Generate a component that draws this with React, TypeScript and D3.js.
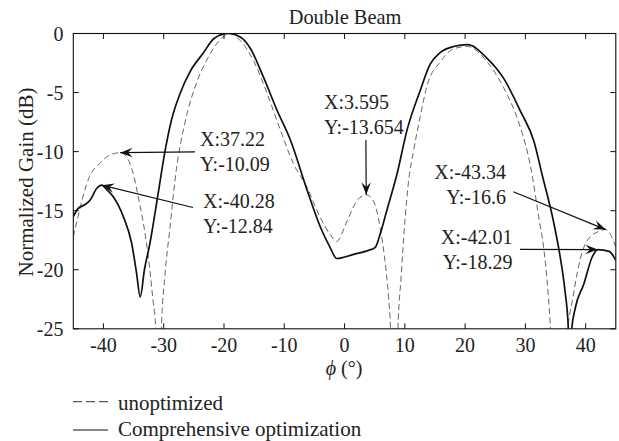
import React from 'react';
import * as d3 from 'd3';

// Beam pattern samples: azimuth angle (deg) and normalized gain (dB)
const phiUnoptimized = [
  -45, -44.2, -43.4, -42.3, -40.6, -39.0, -37.22, -36.2, -35.1, -34.0, -33.2, -32.3, -31.8,
  -31.3, -30.85, -30.4, -29.8, -29.0, -27.9, -26.5, -24.5, -22.9, -20.7, -19.0, -17.3, -15.1,
  -12.9, -10.7, -8.5, -6.25, -4.0, -2.4, -1.3, 0.4, 2.0, 3.595, 4.8, 5.9, 6.76, 7.3, 7.65,
  8.25, 8.85, 9.4, 10.0, 10.6, 11.5, 12.57, 13.7, 15.9, 18.1, 20.4, 23.65, 26.4, 29.2, 30.8,
  32.3, 33.0, 33.7, 34.2, 35.6, 37.0, 37.8, 38.6, 39.2, 40.3, 42.2, 43.34, 44.3, 45,
];
const gainUnoptimized = [
  -17.2, -15.5, -13.8, -12.1, -11.0, -10.3, -10.09, -10.4, -11.8, -14.4, -16.6, -20.0, -22.5,
  -25.2, -40, -25.2, -20.5, -16.6, -11.5, -7.6, -4.1, -2.3, -0.55, 0, -0.6, -2.3,
  -5.0, -8.1, -11.0, -13.0, -15.6, -17.0, -17.6, -15.9, -14.2, -13.654, -14.2, -16.4, -19.5, -22.3, -25.2,
  -40, -25.2, -20.5, -16.0, -12.6, -9.8, -7.0, -4.4, -2.4, -1.3, -1.1, -2.4, -4.6, -8.0, -11.1,
  -15.8, -18.0, -21.5, -25.2, -40, -25.2, -22.6, -20.3, -18.9, -17.5, -16.75, -16.6, -17.2, -18.1,
];

const phiComprehensive = [
  -45, -44.2, -43.1, -42.2, -41.1, -40.28, -39.5, -38.4, -36.7, -35.3, -34.5, -33.9, -33.2,
  -32.3, -31.0, -29.8, -28.7, -27.3, -25.6, -23.5, -21.6, -19.3, -17.3, -15.7, -13.45, -11.2,
  -9.0, -6.25, -4.0, -2.4, -1.3, 1.5, 3.7, 5.1, 5.9, 7.0, 8.7, 10.35, 12.57, 14.2, 15.9, 18.1,
  20.4, 23.65, 26.4, 29.2, 31.4, 32.8, 34.7, 35.8, 36.5, 37.15, 37.4, 37.65, 38.3, 39.7,
  41.1, 42.01, 43.9, 45,
];
const gainComprehensive = [
  -15.5, -14.8, -14.5, -14.1, -13.1, -12.84, -13.2, -13.8, -15.5, -17.8, -20.3, -22.3, -20.0,
  -17.8, -13.8, -10.0, -7.3, -5.1, -3.2, -1.7, -0.4, 0, -0.3, -1.2, -3.7, -6.5,
  -9.0, -13.2, -16.4, -18.1, -19.05, -18.7, -18.4, -18.1, -17.0, -15.0, -11.9, -8.2, -4.8, -2.6, -1.6, -1.1,
  -0.95, -2.1, -3.8, -6.6, -9.1, -12.0, -16.0, -19.0, -21.5, -25.2, -40, -25.2, -23.2, -21.2,
  -18.9, -18.29, -18.45, -19.2,
];

const xTicks = [-40, -30, -20, -10, 0, 10, 20, 30, 40];
const yTicks = [0, -5, -10, -15, -20, -25];

// Data-tip readouts
const tipPhi = [-37.22, -40.28, 3.595, 43.34, 42.01];
const tipGain = [-10.09, -12.84, -13.654, -16.6, -18.29];
const tipXText = ['37.22', '-40.28', '3.595', '-43.34', '-42.01'];

const seriesNames = ['unoptimized', 'Comprehensive optimization'];

// Placement of each readout box and its arrow tail
const tipLayout = [
  { tail: [195, 151.8], tx: 200, ty: 146, anchor: 'start' },
  { tail: [193, 207.5], tx: 203, ty: 208, anchor: 'start' },
  { tail: [365.9, 140], tx: 324, ty: 108.5, anchor: 'start' },
  { tail: [513.3, 191.7], tx: 506, ty: 178.5, anchor: 'end' },
  { tail: [520, 249.3], tx: 512.5, ty: 243.5, anchor: 'end' },
];

const W = 619;
const H = 441;
const plot = { left: 73.3, right: 615.8, top: 33.5, bottom: 328.8 };
const FONT = '"Liberation Serif", "Times New Roman", Times, serif';

function arrowHead(tx: number, ty: number, fx: number, fy: number, L = 12.5, Wd = 9.5) {
  const ang = Math.atan2(ty - fy, tx - fx);
  const c = Math.cos(ang);
  const s = Math.sin(ang);
  const pt = (a: number, b: number) => `${tx + a * c - b * s},${ty + a * s + b * c}`;
  return `M${tx},${ty}L${pt(-L, Wd / 2)}L${pt(-0.62 * L, 0)}L${pt(-L, -Wd / 2)}Z`;
}

export default function App() {
  const x = d3.scaleLinear().domain([-45, 45]).range([plot.left, plot.right]);
  const y = d3.scaleLinear().domain([-25, 0]).range([plot.bottom, plot.top]);
  const line = d3
    .line<[number, number]>()
    .x((d) => x(d[0]))
    .y((d) => y(d[1]))
    .curve(d3.curveMonotoneX);

  const unopt = phiUnoptimized.map((p, i) => [p, gainUnoptimized[i]] as [number, number]);
  const comp = phiComprehensive.map((p, i) => [p, gainComprehensive[i]] as [number, number]);
  const tickLen = 5.5;

  return (
    <svg
      width={W}
      height={H}
      style={{ position: 'absolute', left: 0, top: 0, background: '#fff' }}
      fontFamily={FONT}
    >
      <defs>
        <clipPath id="plotClip">
          <rect x={plot.left} y={plot.top} width={plot.right - plot.left} height={plot.bottom - plot.top} />
        </clipPath>
      </defs>
      <rect x={0} y={0} width={W} height={H} fill="#fff" />

      <text x={345} y={23.5} fontSize={20.4} textAnchor="middle" fill="#222">
        Double Beam
      </text>

      {/* curves */}
      <g clipPath="url(#plotClip)" fill="none">
        <path d={line(unopt) || ''} stroke="#555" strokeWidth={0.9} strokeDasharray="6,3.5" />
        <path d={line(comp) || ''} stroke="#111" strokeWidth={1.7} strokeLinejoin="round" />
      </g>

      {/* axes box and ticks */}
      <rect
        x={plot.left}
        y={plot.top}
        width={plot.right - plot.left}
        height={plot.bottom - plot.top}
        fill="none"
        stroke="#111"
        strokeWidth={1.1}
      />
      {xTicks.map((t) => (
        <g key={'x' + t}>
          <line x1={x(t)} x2={x(t)} y1={plot.bottom} y2={plot.bottom - tickLen} stroke="#111" />
          <line x1={x(t)} x2={x(t)} y1={plot.top} y2={plot.top + tickLen} stroke="#111" />
          <text x={x(t)} y={351.7} fontSize={20} textAnchor="middle" fill="#222">
            {t}
          </text>
        </g>
      ))}
      {yTicks.map((t) => (
        <g key={'y' + t}>
          <line x1={plot.left} x2={plot.left + tickLen} y1={y(t)} y2={y(t)} stroke="#111" />
          <line x1={plot.right} x2={plot.right - tickLen} y1={y(t)} y2={y(t)} stroke="#111" />
          <text x={63.5} y={y(t) + 7} fontSize={20} textAnchor="end" fill="#222">
            {t}
          </text>
        </g>
      ))}

      <text
        transform={`translate(32.5, 182) rotate(-90)`}
        fontSize={21}
        textAnchor="middle"
        fill="#222"
      >
        Normalized Gain (dB)
      </text>
      <text x={344} y={375} fontSize={20} textAnchor="middle" fill="#222">
        <tspan fontStyle="italic">ϕ</tspan> (°)
      </text>

      {/* data-tip readouts */}
      {tipPhi.map((p, i) => {
        const tx = x(p);
        const ty = y(tipGain[i]);
        const L = tipLayout[i];
        const [fx, fy] = L.tail;
        return (
          <g key={'tip' + i}>
            <line x1={fx} y1={fy} x2={tx} y2={ty} stroke="#111" strokeWidth={1.2} />
            <path d={arrowHead(tx, ty, fx, fy)} fill="#111" />
            <text x={L.tx} y={L.ty} fontSize={20} textAnchor={L.anchor as any} fill="#222">
              {'X:' + tipXText[i]}
            </text>
            <text x={L.tx} y={L.ty + 25} fontSize={20} textAnchor={L.anchor as any} fill="#222">
              {'Y:' + tipGain[i]}
            </text>
          </g>
        );
      })}

      {/* legend */}
      <line x1={73} x2={108} y1={401.7} y2={401.7} stroke="#333" strokeWidth={1} strokeDasharray="9,4" />
      <text x={118} y={410} fontSize={21} fill="#222">
        {seriesNames[0]}
      </text>
      <line x1={73} x2={108} y1={430} y2={430} stroke="#111" strokeWidth={1.2} />
      <text x={118} y={436} fontSize={21} fill="#222">
        {seriesNames[1]}
      </text>
    </svg>
  );
}
